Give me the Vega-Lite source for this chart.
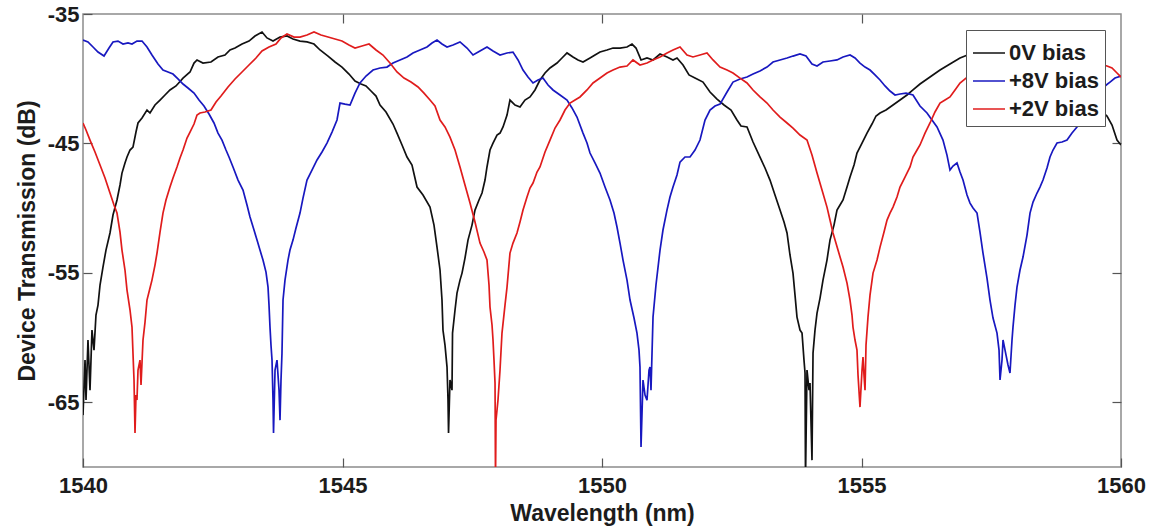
{
"$schema": "https://vega.github.io/schema/vega-lite/v6.json",
"width": 1038,
"height": 453,
"autosize": {"type": "none"},
"padding": {"left": 83, "top": 14, "right": 35, "bottom": 64},
"background": "white",
"config": {
"view": {"stroke": "#8c8c8c", "strokeWidth": 1.5},
"axis": {"grid": false, "domain": false, "tickColor": "#555555", "tickWidth": 1.2, "tickSize": -9, "labelFont": "Liberation Sans", "labelFontSize": 22, "labelFontWeight": "bold", "labelColor": "#1c1c1c", "titleFont": "Liberation Sans", "titleFontSize": 23, "titleFontWeight": "bold", "titleColor": "#1c1c1c", "labelFlush": false, "labelOverlap": false},
"legend": {"orient": "top-right", "offset": 16, "padding": 6, "fillColor": "white", "strokeColor": "#555555", "labelFont": "Liberation Sans", "labelFontSize": 22, "labelFontWeight": "bold", "labelColor": "#1c1c1c", "symbolType": "stroke", "symbolSize": 1024, "symbolStrokeWidth": 1.5, "rowPadding": -1, "labelOffset": 3}
},
"datasets": {
"k": [
{"w":1540,"d":-65.99},{"w":1540.039,"d":-61.74},{"w":1540.058,"d":-64.83},{"w":1540.096,"d":-60.19},{"w":1540.135,"d":-64.06},{"w":1540.173,"d":-59.42},{"w":1540.212,"d":-60.97},{"w":1540.25,"d":-58.26},{"w":1540.289,"d":-57.49},{"w":1540.328,"d":-55.94},{"w":1540.385,"d":-54.55},{"w":1540.443,"d":-53.24},{"w":1540.52,"d":-51.92},{"w":1540.578,"d":-50.53},{"w":1540.655,"d":-49.37},{"w":1540.713,"d":-48.21},{"w":1540.751,"d":-47.29},{"w":1540.809,"d":-46.51},{"w":1540.848,"d":-46.05},{"w":1540.906,"d":-45.51},{"w":1540.963,"d":-45.28},{"w":1541.021,"d":-44.12},{"w":1541.06,"d":-43.42},{"w":1541.137,"d":-43.04},{"w":1541.233,"d":-42.42},{"w":1541.291,"d":-42.65},{"w":1541.387,"d":-42.03},{"w":1541.484,"d":-41.65},{"w":1541.58,"d":-41.26},{"w":1541.676,"d":-40.87},{"w":1541.792,"d":-40.56},{"w":1541.927,"d":-39.95},{"w":1542.062,"d":-39.48},{"w":1542.139,"d":-38.79},{"w":1542.197,"d":-38.55},{"w":1542.312,"d":-38.79},{"w":1542.466,"d":-38.71},{"w":1542.601,"d":-38.32},{"w":1542.736,"d":-38.17},{"w":1542.832,"d":-37.78},{"w":1542.929,"d":-37.63},{"w":1543.064,"d":-37.32},{"w":1543.198,"d":-37.09},{"w":1543.314,"d":-36.7},{"w":1543.449,"d":-36.39},{"w":1543.545,"d":-36.85},{"w":1543.661,"d":-37.09},{"w":1543.796,"d":-36.78},{"w":1543.931,"d":-36.7},{"w":1544.046,"d":-36.93},{"w":1544.181,"d":-37.09},{"w":1544.316,"d":-37.16},{"w":1544.451,"d":-37.32},{"w":1544.567,"d":-37.78},{"w":1544.721,"d":-38.25},{"w":1544.856,"d":-38.71},{"w":1544.99,"d":-39.1},{"w":1545.125,"d":-39.64},{"w":1545.241,"d":-40.18},{"w":1545.357,"d":-40.41},{"w":1545.453,"d":-40.56},{"w":1545.549,"d":-40.95},{"w":1545.646,"d":-41.34},{"w":1545.723,"d":-42.03},{"w":1545.838,"d":-42.57},{"w":1545.973,"d":-43.5},{"w":1546.05,"d":-44.2},{"w":1546.147,"d":-45.12},{"w":1546.243,"d":-46.05},{"w":1546.339,"d":-46.67},{"w":1546.436,"d":-48.37},{"w":1546.551,"d":-48.99},{"w":1546.686,"d":-49.92},{"w":1546.763,"d":-51.31},{"w":1546.821,"d":-53.01},{"w":1546.879,"d":-54.78},{"w":1546.917,"d":-57.1},{"w":1546.936,"d":-59.42},{"w":1546.975,"d":-60.58},{"w":1547.014,"d":-62.28},{"w":1547.033,"d":-64.83},{"w":1547.043,"d":-67.38},{"w":1547.071,"d":-63.28},{"w":1547.11,"d":-64.06},{"w":1547.12,"d":-59.65},{"w":1547.168,"d":-57.87},{"w":1547.206,"d":-56.56},{"w":1547.264,"d":-55.56},{"w":1547.303,"d":-55.02},{"w":1547.36,"d":-53.86},{"w":1547.418,"d":-52.47},{"w":1547.495,"d":-51.31},{"w":1547.553,"d":-50.15},{"w":1547.63,"d":-49.37},{"w":1547.688,"d":-48.83},{"w":1547.746,"d":-47.83},{"w":1547.784,"d":-46.82},{"w":1547.842,"d":-45.51},{"w":1547.9,"d":-44.97},{"w":1547.977,"d":-44.35},{"w":1548.035,"d":-44.2},{"w":1548.093,"d":-43.73},{"w":1548.17,"d":-42.81},{"w":1548.227,"d":-41.65},{"w":1548.324,"d":-42.03},{"w":1548.42,"d":-42.19},{"w":1548.516,"d":-41.65},{"w":1548.613,"d":-41.41},{"w":1548.709,"d":-40.87},{"w":1548.805,"d":-40.1},{"w":1548.902,"d":-39.56},{"w":1548.998,"d":-39.17},{"w":1549.133,"d":-38.79},{"w":1549.229,"d":-38.4},{"w":1549.326,"d":-38.01},{"w":1549.441,"d":-38.32},{"w":1549.538,"d":-38.55},{"w":1549.634,"d":-38.71},{"w":1549.769,"d":-38.4},{"w":1549.865,"d":-38.17},{"w":1549.962,"d":-37.94},{"w":1550.096,"d":-37.78},{"w":1550.212,"d":-37.63},{"w":1550.347,"d":-37.63},{"w":1550.482,"d":-37.55},{"w":1550.578,"d":-37.32},{"w":1550.655,"d":-37.63},{"w":1550.752,"d":-38.55},{"w":1550.867,"d":-38.4},{"w":1550.983,"d":-38.55},{"w":1551.118,"d":-38.09},{"w":1551.253,"d":-38.32},{"w":1551.368,"d":-38.55},{"w":1551.445,"d":-38.4},{"w":1551.561,"d":-38.94},{"w":1551.676,"d":-39.71},{"w":1551.792,"d":-39.95},{"w":1551.946,"d":-40.26},{"w":1552.081,"d":-41.03},{"w":1552.216,"d":-41.57},{"w":1552.351,"d":-42.03},{"w":1552.486,"d":-42.42},{"w":1552.601,"d":-43.19},{"w":1552.678,"d":-43.66},{"w":1552.794,"d":-43.73},{"w":1552.91,"d":-44.89},{"w":1553.044,"d":-46.05},{"w":1553.141,"d":-46.9},{"w":1553.237,"d":-47.83},{"w":1553.333,"d":-48.99},{"w":1553.43,"d":-50.15},{"w":1553.507,"d":-51.07},{"w":1553.565,"d":-51.92},{"w":1553.622,"d":-53.62},{"w":1553.68,"d":-55.02},{"w":1553.719,"d":-56.72},{"w":1553.757,"d":-58.42},{"w":1553.815,"d":-59.42},{"w":1553.854,"d":-59.65},{"w":1553.892,"d":-61.74},{"w":1553.912,"d":-62.74},{"w":1553.921,"d":-71},{"w":1553.95,"d":-62.51},{"w":1553.989,"d":-64.06},{"w":1554.008,"d":-63.52},{"w":1554.046,"d":-69.47},{"w":1554.066,"d":-61.2},{"w":1554.104,"d":-59.42},{"w":1554.143,"d":-58.11},{"w":1554.201,"d":-56.95},{"w":1554.258,"d":-55.56},{"w":1554.335,"d":-54.01},{"w":1554.393,"d":-52.47},{"w":1554.47,"d":-51.31},{"w":1554.528,"d":-50.15},{"w":1554.586,"d":-49.76},{"w":1554.644,"d":-49.37},{"w":1554.721,"d":-48.37},{"w":1554.779,"d":-47.6},{"w":1554.856,"d":-46.67},{"w":1554.913,"d":-45.74},{"w":1555.01,"d":-44.97},{"w":1555.106,"d":-44.2},{"w":1555.202,"d":-43.5},{"w":1555.28,"d":-42.88},{"w":1555.357,"d":-42.65},{"w":1555.472,"d":-42.42},{"w":1555.607,"d":-42.03},{"w":1555.742,"d":-41.65},{"w":1555.877,"d":-41.26},{"w":1555.992,"d":-40.87},{"w":1556.127,"d":-40.41},{"w":1556.32,"d":-39.87},{"w":1556.513,"d":-39.33},{"w":1556.705,"d":-38.86},{"w":1556.898,"d":-38.4},{"w":1557.091,"d":-38.09},{"w":1557.283,"d":-37.94},{"w":1557.476,"d":-37.94},{"w":1557.669,"d":-38.09},{"w":1557.861,"d":-38.4},{"w":1558.054,"d":-38.86},{"w":1558.247,"d":-39.33},{"w":1558.439,"d":-39.87},{"w":1558.632,"d":-40.49},{"w":1558.825,"d":-41.03},{"w":1559.018,"d":-41.49},{"w":1559.21,"d":-41.88},{"w":1559.403,"d":-42.11},{"w":1559.596,"d":-42.42},{"w":1559.73,"d":-42.88},{"w":1559.827,"d":-43.58},{"w":1559.923,"d":-44.74},{"w":1560,"d":-45.12}
],
"b": [
{"w":1540,"d":-37.01},{"w":1540.096,"d":-37.16},{"w":1540.193,"d":-37.55},{"w":1540.289,"d":-37.94},{"w":1540.405,"d":-38.25},{"w":1540.501,"d":-37.63},{"w":1540.578,"d":-37.16},{"w":1540.674,"d":-37.09},{"w":1540.771,"d":-37.32},{"w":1540.867,"d":-37.24},{"w":1540.944,"d":-37.32},{"w":1541.04,"d":-37.09},{"w":1541.137,"d":-37.09},{"w":1541.233,"d":-37.55},{"w":1541.329,"d":-38.17},{"w":1541.445,"d":-38.86},{"w":1541.541,"d":-39.33},{"w":1541.638,"d":-39.48},{"w":1541.734,"d":-39.64},{"w":1541.83,"d":-40.02},{"w":1541.927,"d":-40.41},{"w":1542.023,"d":-40.72},{"w":1542.139,"d":-41.11},{"w":1542.235,"d":-41.65},{"w":1542.331,"d":-42.11},{"w":1542.428,"d":-42.73},{"w":1542.524,"d":-43.42},{"w":1542.601,"d":-44.2},{"w":1542.678,"d":-44.74},{"w":1542.755,"d":-45.51},{"w":1542.813,"d":-46.05},{"w":1542.89,"d":-46.82},{"w":1542.987,"d":-47.83},{"w":1543.083,"d":-48.6},{"w":1543.16,"d":-49.76},{"w":1543.218,"d":-50.69},{"w":1543.295,"d":-51.69},{"w":1543.353,"d":-52.47},{"w":1543.41,"d":-53.24},{"w":1543.468,"d":-54.01},{"w":1543.526,"d":-54.94},{"w":1543.565,"d":-56.1},{"w":1543.584,"d":-57.49},{"w":1543.603,"d":-59.19},{"w":1543.622,"d":-60.58},{"w":1543.642,"d":-61.74},{"w":1543.661,"d":-64.83},{"w":1543.671,"d":-67.38},{"w":1543.7,"d":-62.51},{"w":1543.738,"d":-61.74},{"w":1543.777,"d":-64.06},{"w":1543.796,"d":-66.38},{"w":1543.815,"d":-63.28},{"w":1543.834,"d":-61.2},{"w":1543.854,"d":-57.1},{"w":1543.892,"d":-55.56},{"w":1543.95,"d":-54.01},{"w":1543.988,"d":-53.24},{"w":1544.046,"d":-52.47},{"w":1544.104,"d":-51.54},{"w":1544.181,"d":-50.38},{"w":1544.239,"d":-49.22},{"w":1544.316,"d":-47.83},{"w":1544.412,"d":-47.06},{"w":1544.509,"d":-46.28},{"w":1544.605,"d":-45.66},{"w":1544.701,"d":-44.97},{"w":1544.798,"d":-44.12},{"w":1544.894,"d":-43.19},{"w":1544.952,"d":-41.88},{"w":1545.048,"d":-41.96},{"w":1545.145,"d":-42.03},{"w":1545.241,"d":-41.11},{"w":1545.337,"d":-40.33},{"w":1545.453,"d":-39.79},{"w":1545.588,"d":-39.33},{"w":1545.723,"d":-39.17},{"w":1545.857,"d":-39.1},{"w":1545.973,"d":-38.79},{"w":1546.108,"d":-38.55},{"w":1546.243,"d":-38.32},{"w":1546.358,"d":-38.01},{"w":1546.493,"d":-37.78},{"w":1546.628,"d":-37.55},{"w":1546.725,"d":-37.24},{"w":1546.821,"d":-37.01},{"w":1546.917,"d":-37.32},{"w":1547.014,"d":-37.55},{"w":1547.129,"d":-37.4},{"w":1547.264,"d":-37.16},{"w":1547.399,"d":-37.63},{"w":1547.515,"d":-38.17},{"w":1547.649,"d":-37.86},{"w":1547.784,"d":-37.55},{"w":1547.9,"d":-37.86},{"w":1548.035,"d":-38.17},{"w":1548.17,"d":-38.01},{"w":1548.285,"d":-37.94},{"w":1548.382,"d":-38.55},{"w":1548.478,"d":-39.33},{"w":1548.574,"d":-39.87},{"w":1548.671,"d":-40.33},{"w":1548.767,"d":-40.1},{"w":1548.863,"d":-39.95},{"w":1548.96,"d":-40.49},{"w":1549.056,"d":-40.87},{"w":1549.191,"d":-41.26},{"w":1549.326,"d":-41.65},{"w":1549.422,"d":-42.26},{"w":1549.518,"d":-42.96},{"w":1549.634,"d":-44.2},{"w":1549.711,"d":-44.97},{"w":1549.769,"d":-45.74},{"w":1549.865,"d":-46.51},{"w":1549.961,"d":-47.29},{"w":1550.058,"d":-48.37},{"w":1550.154,"d":-49.37},{"w":1550.231,"d":-50.38},{"w":1550.289,"d":-51.46},{"w":1550.347,"d":-52.7},{"w":1550.405,"d":-54.01},{"w":1550.482,"d":-55.56},{"w":1550.54,"d":-57.1},{"w":1550.617,"d":-58.49},{"w":1550.674,"d":-59.65},{"w":1550.713,"d":-60.97},{"w":1550.732,"d":-62.28},{"w":1550.752,"d":-68.46},{"w":1550.79,"d":-63.28},{"w":1550.829,"d":-64.44},{"w":1550.867,"d":-64.83},{"w":1550.906,"d":-62.51},{"w":1550.925,"d":-62.28},{"w":1550.944,"d":-64.06},{"w":1550.983,"d":-58.42},{"w":1551.04,"d":-55.94},{"w":1551.118,"d":-53.24},{"w":1551.175,"d":-51.69},{"w":1551.252,"d":-50.15},{"w":1551.31,"d":-49.14},{"w":1551.368,"d":-48.37},{"w":1551.445,"d":-47.44},{"w":1551.503,"d":-46.44},{"w":1551.599,"d":-46.05},{"w":1551.696,"d":-46.05},{"w":1551.792,"d":-45.51},{"w":1551.888,"d":-44.74},{"w":1551.985,"d":-43.19},{"w":1552.081,"d":-42.42},{"w":1552.177,"d":-42.11},{"w":1552.274,"d":-41.96},{"w":1552.409,"d":-41.03},{"w":1552.524,"d":-40.26},{"w":1552.659,"d":-40.02},{"w":1552.794,"d":-39.87},{"w":1552.91,"d":-39.64},{"w":1553.044,"d":-39.4},{"w":1553.179,"d":-39.1},{"w":1553.295,"d":-38.71},{"w":1553.43,"d":-38.55},{"w":1553.565,"d":-38.4},{"w":1553.68,"d":-38.25},{"w":1553.815,"d":-38.09},{"w":1553.931,"d":-38.25},{"w":1554.046,"d":-38.86},{"w":1554.143,"d":-39.02},{"w":1554.258,"d":-38.71},{"w":1554.393,"d":-38.63},{"w":1554.528,"d":-38.55},{"w":1554.644,"d":-38.32},{"w":1554.779,"d":-38.17},{"w":1554.875,"d":-38.4},{"w":1554.971,"d":-38.79},{"w":1555.068,"d":-39.1},{"w":1555.164,"d":-39.33},{"w":1555.26,"d":-39.71},{"w":1555.357,"d":-40.1},{"w":1555.453,"d":-40.56},{"w":1555.549,"d":-40.95},{"w":1555.646,"d":-41.26},{"w":1555.742,"d":-41.18},{"w":1555.858,"d":-41.11},{"w":1555.992,"d":-41.26},{"w":1556.127,"d":-42.11},{"w":1556.262,"d":-42.65},{"w":1556.358,"d":-43.19},{"w":1556.455,"d":-43.73},{"w":1556.57,"d":-44.74},{"w":1556.647,"d":-45.9},{"w":1556.705,"d":-47.06},{"w":1556.763,"d":-46.75},{"w":1556.84,"d":-46.51},{"w":1556.898,"d":-47.21},{"w":1556.956,"d":-47.83},{"w":1557.033,"d":-48.99},{"w":1557.091,"d":-49.61},{"w":1557.149,"d":-49.99},{"w":1557.226,"d":-50.38},{"w":1557.283,"d":-51.85},{"w":1557.341,"d":-53.47},{"w":1557.418,"d":-55.4},{"w":1557.476,"d":-57.1},{"w":1557.534,"d":-58.49},{"w":1557.611,"d":-59.65},{"w":1557.65,"d":-60.97},{"w":1557.669,"d":-63.28},{"w":1557.707,"d":-61.74},{"w":1557.727,"d":-60.19},{"w":1557.785,"d":-61.35},{"w":1557.823,"d":-62.12},{"w":1557.861,"d":-62.74},{"w":1557.9,"d":-60.19},{"w":1557.919,"d":-59.19},{"w":1557.958,"d":-57.49},{"w":1557.996,"d":-56.1},{"w":1558.054,"d":-54.78},{"w":1558.112,"d":-53.78},{"w":1558.189,"d":-52.08},{"w":1558.247,"d":-50.38},{"w":1558.305,"d":-49.53},{"w":1558.382,"d":-48.83},{"w":1558.439,"d":-48.37},{"w":1558.497,"d":-47.83},{"w":1558.574,"d":-46.9},{"w":1558.632,"d":-46.05},{"w":1558.69,"d":-45.51},{"w":1558.767,"d":-44.97},{"w":1558.863,"d":-44.89},{"w":1558.96,"d":-44.74},{"w":1559.056,"d":-44.2},{"w":1559.152,"d":-43.73},{"w":1559.249,"d":-43.19},{"w":1559.403,"d":-42.26},{"w":1559.557,"d":-41.34},{"w":1559.692,"d":-40.56},{"w":1559.788,"d":-40.26},{"w":1559.884,"d":-39.95},{"w":1560,"d":-39.79}
],
"r": [
{"w":1540,"d":-43.42},{"w":1540.058,"d":-43.96},{"w":1540.135,"d":-44.74},{"w":1540.231,"d":-45.66},{"w":1540.328,"d":-46.67},{"w":1540.424,"d":-47.67},{"w":1540.52,"d":-48.83},{"w":1540.597,"d":-49.76},{"w":1540.655,"d":-50.38},{"w":1540.713,"d":-51.85},{"w":1540.751,"d":-53.24},{"w":1540.809,"d":-54.78},{"w":1540.848,"d":-56.33},{"w":1540.906,"d":-57.87},{"w":1540.944,"d":-59.19},{"w":1540.963,"d":-61.2},{"w":1540.983,"d":-63.28},{"w":1541.002,"d":-67.38},{"w":1541.021,"d":-64.44},{"w":1541.04,"d":-64.83},{"w":1541.06,"d":-62.51},{"w":1541.098,"d":-61.74},{"w":1541.118,"d":-63.67},{"w":1541.156,"d":-60.19},{"w":1541.195,"d":-58.8},{"w":1541.233,"d":-57.1},{"w":1541.291,"d":-56.17},{"w":1541.329,"d":-55.56},{"w":1541.387,"d":-54.4},{"w":1541.426,"d":-53.47},{"w":1541.484,"d":-51.85},{"w":1541.541,"d":-50.38},{"w":1541.599,"d":-49.37},{"w":1541.676,"d":-48.37},{"w":1541.734,"d":-47.67},{"w":1541.811,"d":-46.82},{"w":1541.869,"d":-46.13},{"w":1541.927,"d":-45.51},{"w":1542.004,"d":-44.58},{"w":1542.062,"d":-44.12},{"w":1542.139,"d":-43.5},{"w":1542.197,"d":-42.81},{"w":1542.254,"d":-42.65},{"w":1542.351,"d":-42.57},{"w":1542.466,"d":-42.42},{"w":1542.563,"d":-41.8},{"w":1542.659,"d":-41.34},{"w":1542.794,"d":-40.64},{"w":1542.929,"d":-40.02},{"w":1543.064,"d":-39.48},{"w":1543.198,"d":-38.94},{"w":1543.333,"d":-38.4},{"w":1543.449,"d":-37.86},{"w":1543.584,"d":-37.55},{"w":1543.719,"d":-37.32},{"w":1543.815,"d":-36.85},{"w":1543.931,"d":-36.55},{"w":1544.066,"d":-36.78},{"w":1544.181,"d":-36.78},{"w":1544.316,"d":-36.62},{"w":1544.451,"d":-36.39},{"w":1544.586,"d":-36.62},{"w":1544.721,"d":-36.78},{"w":1544.856,"d":-36.93},{"w":1544.99,"d":-37.09},{"w":1545.125,"d":-37.4},{"w":1545.241,"d":-37.63},{"w":1545.376,"d":-37.47},{"w":1545.511,"d":-37.32},{"w":1545.646,"d":-37.78},{"w":1545.78,"d":-38.17},{"w":1545.915,"d":-38.79},{"w":1546.05,"d":-39.48},{"w":1546.185,"d":-39.95},{"w":1546.32,"d":-40.26},{"w":1546.455,"d":-40.64},{"w":1546.57,"d":-41.11},{"w":1546.686,"d":-41.65},{"w":1546.782,"d":-42.11},{"w":1546.879,"d":-43.19},{"w":1546.975,"d":-43.73},{"w":1547.071,"d":-44.51},{"w":1547.168,"d":-45.51},{"w":1547.264,"d":-46.82},{"w":1547.36,"d":-48.21},{"w":1547.457,"d":-49.61},{"w":1547.553,"d":-51.07},{"w":1547.649,"d":-52.7},{"w":1547.726,"d":-53.39},{"w":1547.784,"d":-54.01},{"w":1547.823,"d":-55.94},{"w":1547.842,"d":-57.64},{"w":1547.881,"d":-59.03},{"w":1547.9,"d":-60.19},{"w":1547.919,"d":-61.74},{"w":1547.939,"d":-63.52},{"w":1547.948,"d":-71},{"w":1547.958,"d":-66.38},{"w":1547.996,"d":-64.83},{"w":1548.035,"d":-62.51},{"w":1548.073,"d":-59.65},{"w":1548.131,"d":-57.49},{"w":1548.17,"d":-56.1},{"w":1548.227,"d":-53.47},{"w":1548.285,"d":-52.7},{"w":1548.362,"d":-51.92},{"w":1548.42,"d":-51.07},{"w":1548.478,"d":-50.15},{"w":1548.555,"d":-49.14},{"w":1548.613,"d":-48.45},{"w":1548.671,"d":-48.06},{"w":1548.748,"d":-47.21},{"w":1548.805,"d":-46.82},{"w":1548.902,"d":-45.66},{"w":1548.998,"d":-44.74},{"w":1549.095,"d":-43.81},{"w":1549.191,"d":-43.19},{"w":1549.287,"d":-42.42},{"w":1549.384,"d":-41.88},{"w":1549.48,"d":-41.65},{"w":1549.576,"d":-41.41},{"w":1549.711,"d":-40.87},{"w":1549.827,"d":-40.33},{"w":1549.962,"d":-39.95},{"w":1550.096,"d":-39.56},{"w":1550.212,"d":-39.33},{"w":1550.347,"d":-39.1},{"w":1550.482,"d":-39.02},{"w":1550.597,"d":-38.55},{"w":1550.732,"d":-38.94},{"w":1550.867,"d":-38.79},{"w":1550.983,"d":-38.55},{"w":1551.118,"d":-38.32},{"w":1551.253,"d":-38.01},{"w":1551.368,"d":-37.78},{"w":1551.503,"d":-37.55},{"w":1551.638,"d":-38.17},{"w":1551.753,"d":-38.32},{"w":1551.888,"d":-38.17},{"w":1552.023,"d":-38.01},{"w":1552.139,"d":-38.55},{"w":1552.274,"d":-39.1},{"w":1552.409,"d":-39.33},{"w":1552.524,"d":-39.56},{"w":1552.659,"d":-39.95},{"w":1552.794,"d":-40.33},{"w":1552.91,"d":-40.87},{"w":1553.044,"d":-41.41},{"w":1553.179,"d":-41.88},{"w":1553.295,"d":-42.42},{"w":1553.43,"d":-42.96},{"w":1553.565,"d":-43.42},{"w":1553.68,"d":-43.81},{"w":1553.815,"d":-44.35},{"w":1553.95,"d":-44.74},{"w":1554.046,"d":-45.9},{"w":1554.143,"d":-47.29},{"w":1554.239,"d":-48.6},{"w":1554.335,"d":-49.92},{"w":1554.393,"d":-50.92},{"w":1554.451,"d":-51.92},{"w":1554.547,"d":-53.24},{"w":1554.644,"d":-54.55},{"w":1554.721,"d":-55.79},{"w":1554.779,"d":-57.1},{"w":1554.817,"d":-58.26},{"w":1554.836,"d":-59.19},{"w":1554.875,"d":-60.19},{"w":1554.913,"d":-60.97},{"w":1554.933,"d":-62.9},{"w":1554.971,"d":-65.37},{"w":1555.01,"d":-62.51},{"w":1555.029,"d":-61.51},{"w":1555.048,"d":-62.9},{"w":1555.068,"d":-64.06},{"w":1555.087,"d":-60.58},{"w":1555.125,"d":-58.42},{"w":1555.164,"d":-56.72},{"w":1555.222,"d":-55.02},{"w":1555.299,"d":-54.01},{"w":1555.357,"d":-53.01},{"w":1555.434,"d":-51.85},{"w":1555.492,"d":-50.92},{"w":1555.549,"d":-50.38},{"w":1555.607,"d":-49.92},{"w":1555.684,"d":-49.14},{"w":1555.742,"d":-48.37},{"w":1555.838,"d":-47.6},{"w":1555.935,"d":-46.82},{"w":1555.992,"d":-46.05},{"w":1556.07,"d":-45.51},{"w":1556.127,"d":-45.12},{"w":1556.224,"d":-44.2},{"w":1556.32,"d":-43.42},{"w":1556.416,"d":-42.57},{"w":1556.513,"d":-41.88},{"w":1556.609,"d":-41.65},{"w":1556.705,"d":-41.41},{"w":1556.802,"d":-40.87},{"w":1556.898,"d":-40.33},{"w":1557.091,"d":-39.71},{"w":1557.283,"d":-39.17},{"w":1557.476,"d":-38.79},{"w":1557.669,"d":-38.55},{"w":1557.861,"d":-38.4},{"w":1558.054,"d":-38.55},{"w":1558.247,"d":-38.4},{"w":1558.439,"d":-38.71},{"w":1558.632,"d":-38.71},{"w":1558.825,"d":-38.94},{"w":1559.018,"d":-38.86},{"w":1559.21,"d":-39.02},{"w":1559.403,"d":-38.94},{"w":1559.596,"d":-38.86},{"w":1559.73,"d":-39.02},{"w":1559.827,"d":-39.17},{"w":1559.923,"d":-39.56},{"w":1560,"d":-39.87}
]
},
"resolve": {"axis": {"x": "independent", "y": "independent"}},
"layer": [
{
"data": {"name": "k"},
"mark": {"type": "line", "strokeWidth": 1.7, "clip": true},
"encoding": {
"x": {"field": "w", "type": "quantitative", "scale": {"domain": [1540, 1560], "nice": false, "zero": false},
 "axis": {"orient": "bottom", "values": [1540, 1545, 1550, 1555, 1560], "labelExpr": "'' + datum.value", "labelPadding": 17, "title": "Wavelength (nm)", "titlePadding": 6}},
"y": {"field": "d", "type": "quantitative", "scale": {"domain": [-70, -35], "nice": false, "zero": false},
 "axis": {"orient": "left", "values": [-65, -55, -45, -35], "labelExpr": "'' + datum.value", "labelPadding": 13, "title": "Device Transmission (dB)", "titlePadding": 8}},
"color": {"datum": "0V bias", "type": "nominal", "scale": {"domain": ["0V bias", "+8V bias", "+2V bias"], "range": ["#111111", "#1818c0", "#e01c1c"]}, "legend": {"title": null}}
}
},
{
"data": {"name": "b"},
"mark": {"type": "line", "strokeWidth": 1.7, "clip": true},
"encoding": {
"x": {"field": "w", "type": "quantitative", "axis": null},
"y": {"field": "d", "type": "quantitative", "axis": null},
"color": {"datum": "+8V bias", "type": "nominal", "legend": {"title": null}}
}
},
{
"data": {"name": "r"},
"mark": {"type": "line", "strokeWidth": 1.7, "clip": true},
"encoding": {
"x": {"field": "w", "type": "quantitative", "axis": null},
"y": {"field": "d", "type": "quantitative", "axis": null},
"color": {"datum": "+2V bias", "type": "nominal", "legend": {"title": null}}
}
},
{
"data": {"name": "k"},
"mark": {"type": "point", "opacity": 0},
"encoding": {
"x": {"field": "w", "type": "quantitative", "axis": {"orient": "top", "values": [1545, 1550, 1555], "labels": false, "title": null}},
"y": {"field": "d", "type": "quantitative", "axis": {"orient": "right", "values": [-65, -55, -45], "labels": false, "title": null}}
}
}
]
}
